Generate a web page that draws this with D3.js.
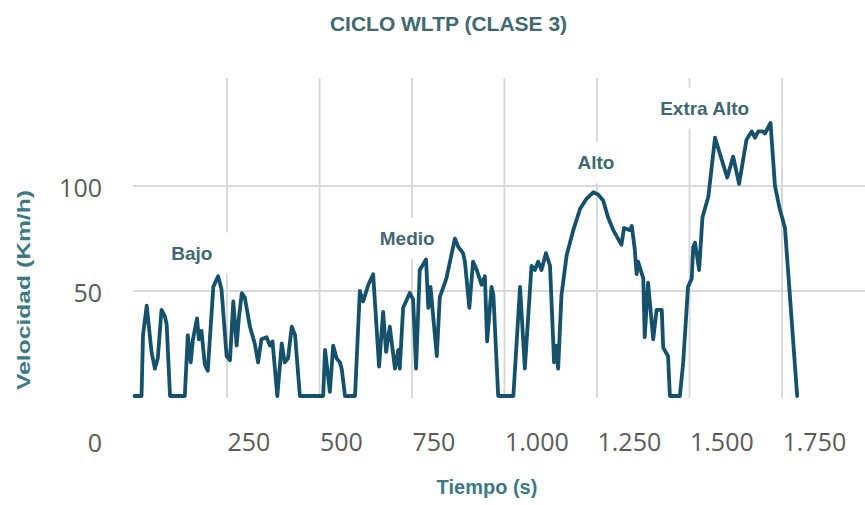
<!DOCTYPE html>
<html>
<head>
<meta charset="utf-8">
<script src="https://cdn.jsdelivr.net/npm/d3@7"></script>
<style>
  html, body { margin: 0; padding: 0; background: #ffffff; }
  svg { display: block; }
</style>
</head>
<body>
<svg id="chart" width="865" height="505"></svg>
<script>
// ---- Data ----
const title = "CICLO WLTP (CLASE 3)";
const xTitle = "Tiempo (s)";
const yTitle = "Velocidad (Km/h)";

const timeSec = [0,19,23,33,46,55,63,73,82,87,96,136,144,152,158,169,174,181,190,198,213,226,235,249,258,267,276,282,290,298,312,325,334,343,357,366,373,386,398,406,415,425,434,447,501,510,515,528,537,546,555,560,569,596,609,618,632,645,661,672,680,690,704,713,717,726,744,753,761,771,788,794,800,817,825,843,866,875,888,893,905,915,925,938,947,953,965,970,983,1024,1042,1055,1073,1082,1091,1100,1112,1123,1134,1139,1145,1154,1168,1186,1204,1222,1240,1253,1267,1280,1294,1316,1323,1339,1344,1352,1357,1361,1375,1379,1388,1402,1411,1425,1429,1442,1447,1474,1483,1496,1506,1510,1515,1526,1535,1551,1569,1602,1618,1634,1654,1668,1677,1686,1698,1704,1719,1731,1744,1758,1791];
const speedKmh = [0,0,29,43,21,13,18,41,38,34,0,0,29,16,27,37,27,31,15,12,52,57,51,19,17,45,24,37,49,47,33,25,16,27,28,24,26,0,25,16,18,33,29,0,0,0,22,2,24,18,16,13,0,0,50,45,53,58,14,40,21,33,13,22,13,42,49,46,13,60,65,42,52,19,47,56,75,71,68,64,42,64,60,53,57,26,52,48,0,0,52,13,62,60,64,60,68,62,16,24,13,48,67,79,89,94,97,96,93,85,79,72,80,79,81,70,58,64,56,28,54,27,41,41,23,19,0,0,16,52,56,71,73,60,85,95,123,104,114,101,122,126,123,126,126,125,130,100,89,80,0];

const xTicks = [250,500,750,1000,1250,1500,1750];
const yTicks = [0,50,100];
const phaseNames = ["Bajo","Medio","Alto","Extra Alto"];
const phaseTime = [155,737,1247,1541];     // label centre (s)
const phaseSpeed = [65,72,108,134];        // label baseline (km/h)

// ---- Setup ----
const svg = d3.select("#chart");
const W = 865, H = 505;

const x = d3.scaleLinear().domain([0, 1750]).range([134.5, 782]);
const y = d3.scaleLinear().domain([0, 100]).range([396, 186]);

const locale = d3.formatLocale({decimal: ",", thousands: ".", grouping: [3], currency: ["", "€"]});
const fmt = locale.format(",");

const gridColor = "#d9d9d9";
const lineColor = "#16516b";
const labelColor = "#3f6871";
const axisTitleColor = "#3d7885";
const tickColor = "#5a5a5a";

// Vertical gridlines
svg.append("g").selectAll("line").data(xTicks).join("line")
  .attr("x1", d => x(d)).attr("x2", d => x(d))
  .attr("y1", 78).attr("y2", 398)
  .attr("stroke", gridColor).attr("stroke-width", 2);

// Horizontal gridlines
svg.append("g").selectAll("line").data(yTicks.filter(d => d > 0)).join("line")
  .attr("x1", 133).attr("x2", W)
  .attr("y1", d => y(d)).attr("y2", d => y(d))
  .attr("stroke", gridColor).attr("stroke-width", 2);

// Phase labels with white backgrounds
const phases = phaseNames.map((n, i) => ({name: n, t: phaseTime[i], v: phaseSpeed[i]}));
const pg = svg.append("g");
const ptext = pg.selectAll("text").data(phases).join("text")
  .attr("x", d => x(d.t)).attr("y", d => y(d.v))
  .attr("text-anchor", "middle")
  .attr("font-family", "'Liberation Sans', Arial, sans-serif")
  .attr("font-weight", "bold").attr("font-size", 19)
  .attr("fill", labelColor)
  .text(d => d.name);
ptext.each(function() {
  const b = this.getBBox();
  pg.insert("rect", "text")
    .attr("x", b.x - 18).attr("y", b.y - 10)
    .attr("width", b.width + 36).attr("height", b.height + 20)
    .attr("fill", "#ffffff");
});

// Speed line
const data = timeSec.map((t, i) => ({t, v: speedKmh[i]}));
svg.append("path").datum(data)
  .attr("fill", "none")
  .attr("stroke", lineColor)
  .attr("stroke-width", 3.8)
  .attr("stroke-linejoin", "round")
  .attr("stroke-linecap", "round")
  .attr("d", d3.line().x(d => x(d.t)).y(d => y(d.v)));

// X axis
const gx = svg.append("g")
  .call(d3.axisBottom(x).tickValues(xTicks).tickSize(0).tickFormat(fmt));
gx.select(".domain").remove();
gx.selectAll("text")
  .attr("y", 451).attr("dy", 0)
  .attr("text-anchor", "start")
  .attr("font-family", "'Open Sans', sans-serif")
  .attr("font-size", 25)
  .attr("fill", tickColor);

// Y axis
const gy = svg.append("g").attr("transform", "translate(102,0)")
  .call(d3.axisLeft(y).tickValues(yTicks).tickSize(0).tickFormat(fmt));
gy.select(".domain").remove();
gy.selectAll("text")
  .attr("x", 0)
  .attr("dy", 0)
  .attr("y", d => d === 0 ? 451 - y(0) : 10)
  .attr("font-family", "'Open Sans', sans-serif")
  .attr("font-size", 25)
  .attr("fill", tickColor);

// Title
svg.append("text")
  .attr("x", 448.5).attr("y", 30.5)
  .attr("text-anchor", "middle")
  .attr("font-family", "'Liberation Sans', Arial, sans-serif")
  .attr("font-weight", "bold").attr("font-size", 21)
  .attr("fill", "#41696f")
  .text(title);

// X title
svg.append("text")
  .attr("x", 487).attr("y", 494)
  .attr("text-anchor", "middle")
  .attr("font-family", "'Liberation Sans', Arial, sans-serif")
  .attr("font-weight", "bold").attr("font-size", 20)
  .attr("fill", axisTitleColor)
  .text(xTitle);

// Y title
svg.append("text")
  .attr("transform", "translate(30,290) rotate(-90)")
  .attr("text-anchor", "middle")
  .attr("font-family", "'Liberation Sans', Arial, sans-serif")
  .attr("font-weight", "bold").attr("font-size", 19)
  .attr("textLength", 200).attr("lengthAdjust", "spacingAndGlyphs")
  .attr("fill", axisTitleColor)
  .text(yTitle);
</script>
</body>
</html>
